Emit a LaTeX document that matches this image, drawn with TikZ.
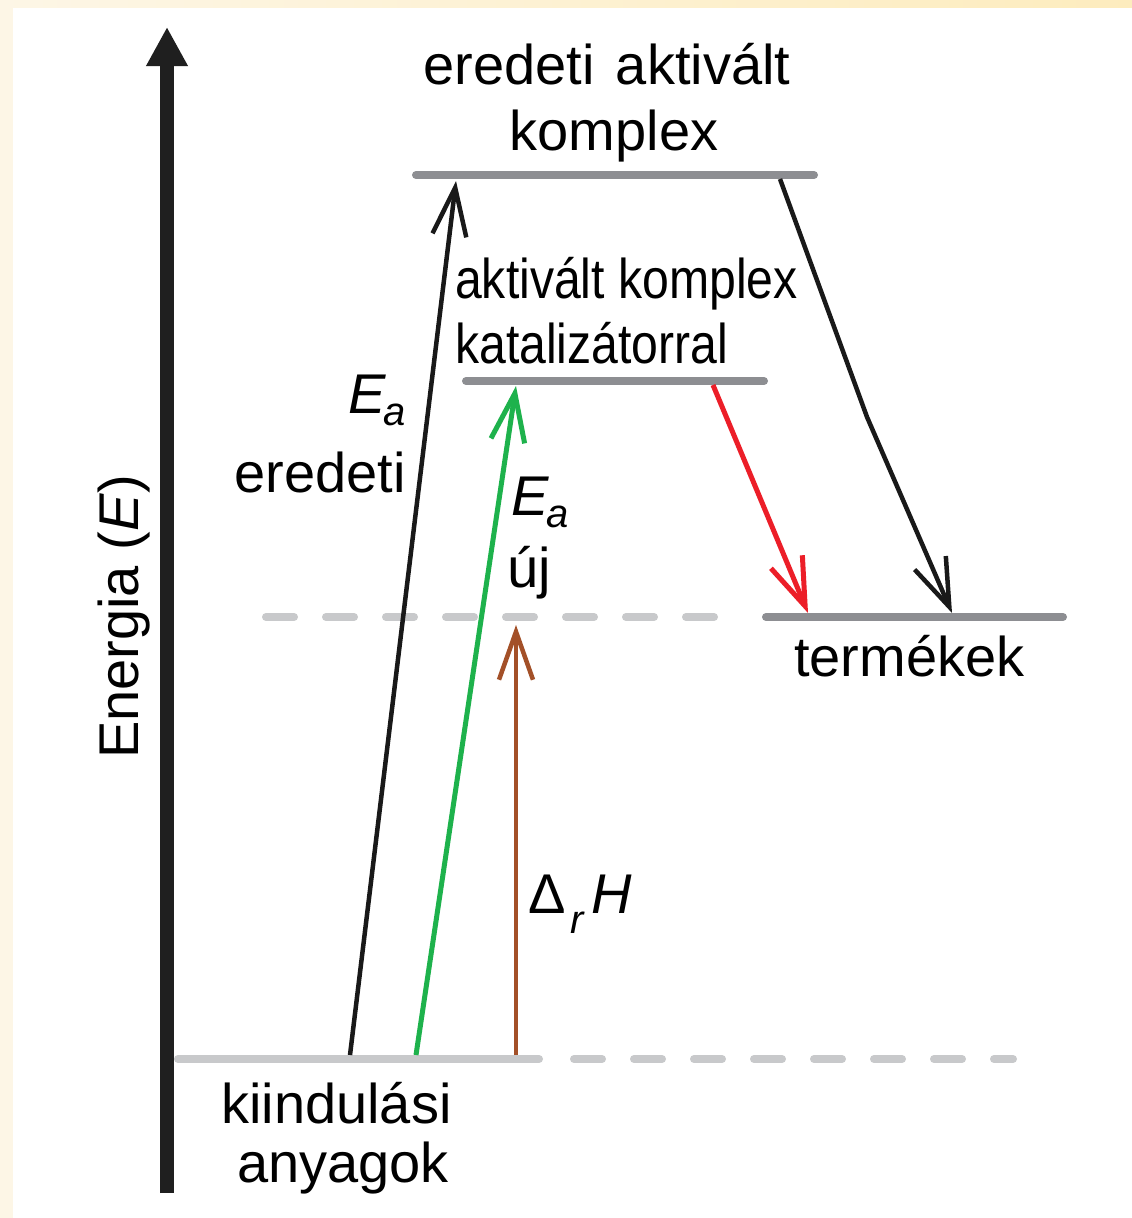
\documentclass[tikz,border=0pt]{standalone}
\usepackage{fontspec}
\setmainfont{Liberation Sans}
\newfontfamily\narrowfont[FakeStretch=0.86]{Liberation Sans}
\usetikzlibrary{arrows.meta}

\definecolor{levelgray}{RGB}{141,142,146}
\definecolor{guidegray}{RGB}{200,201,203}
\definecolor{catgreen}{RGB}{30,178,76}
\definecolor{dhbrown}{RGB}{163,80,40}
\definecolor{fastred}{RGB}{236,30,40}
\definecolor{creamleft}{RGB}{253,246,230}
\definecolor{creamright}{RGB}{253,236,190}

\newcommand{\Ea}{\textit{E}\kern-0.04em\raisebox{-0.23em}{\fontsize{40}{40}\selectfont\textit{a}}}
\newcommand{\DrH}{Δ\kern0.08em\raisebox{-0.36em}{\fontsize{40}{40}\selectfont\textit{r}}\kern0.12em\textit{H}}

\begin{document}
\begin{tikzpicture}[x=1pt,y=-1pt,
    lbl/.style={inner sep=0pt, font=\fontsize{56}{66}\selectfont},
    narrowlbl/.style={inner sep=0pt, font=\narrowfont\fontsize{56}{66}\selectfont},
    level/.style={line width=8pt, levelgray, line cap=round},
    guide/.style={line width=8pt, guidegray, line cap=round},
    dashguide/.style={guide, dash pattern=on 28pt off 32pt},
    jump/.style={line width=4.5pt, -{Straight Barb[length=48pt,width=34pt]}}]
  \useasboundingbox (0,0) rectangle (1132,1218);
  \fill[white] (0,0) rectangle (1132,1218);
  % cream page edge
  \shade[left color=creamleft, right color=creamright] (0,0) rectangle (1132,7);
  \fill[creamleft] (0,0) rectangle (13,1218);

  % energy axis
  \coordinate (axisbot) at (167,1193);
  \coordinate (axistop) at (167,27);
  \draw[line width=14pt, black!88, -{Triangle[length=39pt,width=39pt]}] (axisbot) -- (axistop);
  \node[lbl, rotate=90, anchor=base] (axislabel) at (138,617) {Energia (\textit{E})};

  % levels
  \draw[guide] (178,1059) -- (539,1059);
  \draw[dashguide] (574,1059) -- (1013,1059);
  \draw[dashguide] (266,617) -- (714,617);
  \draw[level] (416,175) -- (814,175);
  \draw[level] (466,381) -- (764,381);
  \draw[level] (766,617) -- (1063,617);

  % arrow ends
  \coordinate (oldfoot) at (350,1055);
  \coordinate (oldpeak) at (456,181);
  \coordinate (newfoot) at (416,1055);
  \coordinate (newpeak) at (516,386);
  \coordinate (hfoot) at (516,1055);
  \coordinate (htop) at (516,625);
  \coordinate (oldleave) at (780,179);
  \coordinate (oldbend) at (867,417);
  \coordinate (oldland) at (952,613);
  \coordinate (newleave) at (713,385);
  \coordinate (newland) at (808,613);

  \draw[jump, black!90] (oldfoot) -- (oldpeak);
  \draw[jump, catgreen, line width=5pt] (newfoot) -- (newpeak);
  \draw[jump, dhbrown] (hfoot) -- (htop);
  \draw[jump, black!90] (oldleave) -- (oldbend) -- (oldland);
  \draw[jump, fastred, line width=5pt] (newleave) -- (newland);

  % labels
  \node[lbl, anchor=base] (oldname) at (607,84) {eredeti\hspace{0.1em} aktivált};
  \node[lbl, anchor=base] (oldname2) at (614,150) {komplex};
  \node[narrowlbl, anchor=base west] (catname) at (455,298) {aktivált komplex};
  \node[narrowlbl, anchor=base west] (catname2) at (455,363) {katalizátorral};
  \node[lbl, anchor=base west] (eaold) at (348,413) {\Ea};
  \node[lbl, anchor=base east] (eaoldtxt) at (406,492) {eredeti};
  \node[lbl, anchor=base west] (eanew) at (511,515) {\Ea};
  \node[lbl, anchor=base west] (eanewtxt) at (507,587) {új};
  \node[lbl, anchor=base west] (prodname) at (794,676) {termékek};
  \node[lbl, anchor=base west] (dhlabel) at (528,913) {\DrH};
  \node[lbl, anchor=base west] (reactname) at (221,1123) {kiindulási};
  \node[lbl, anchor=base west] (reactname2) at (237,1182) {anyagok};
\end{tikzpicture}
\end{document}
